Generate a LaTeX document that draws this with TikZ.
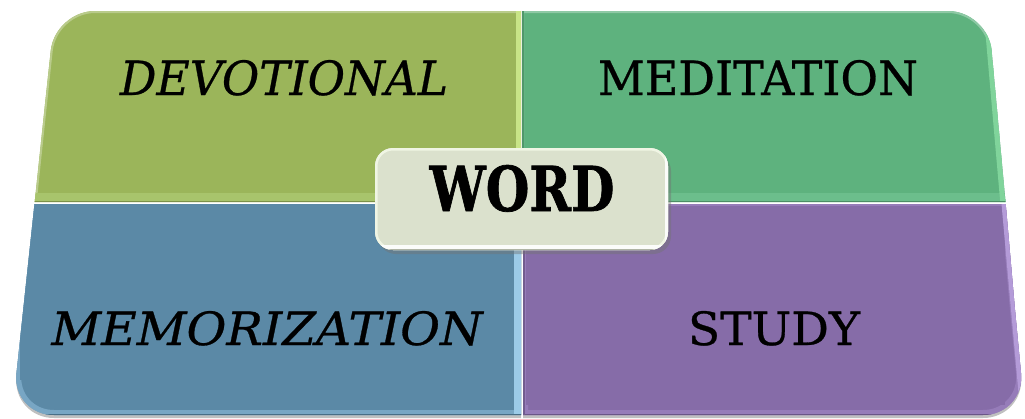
\documentclass[tikz,border=0pt]{standalone}
\usepackage{fontspec}
\usepackage{graphicx}
\setmainfont{DejaVu Serif}
\newfontfamily\lblfont[FakeBold=0.6]{DejaVu Serif}
\newfontfamily\wordfont[FakeBold=1.2]{DejaVu Serif}
\definecolor{tlc}{RGB}{155,181,90}
\definecolor{tlhl}{RGB}{200,228,135}
\definecolor{tlband}{RGB}{168,196,108}
\definecolor{trc}{RGB}{94,178,126}
\definecolor{trhl}{RGB}{128,212,155}
\definecolor{trband}{RGB}{108,190,140}
\definecolor{blc}{RGB}{91,137,166}
\definecolor{blhl}{RGB}{156,203,232}
\definecolor{blband}{RGB}{120,166,196}
\definecolor{brc}{RGB}{134,108,168}
\definecolor{brhl}{RGB}{180,155,216}
\definecolor{brband}{RGB}{150,124,185}
\definecolor{wordc}{RGB}{219,225,205}
\definecolor{wordedge}{RGB}{240,245,228}
\tikzset{
  lbl/.style={anchor=base, inner sep=0pt, text=black},
  shade3/.style={fill=black!55, opacity=0.45},
}
\def\TLpath{(300,11) -- (521,11) -- (521,202) -- (34.7,202) -- (44.8,106) [rounded corners=40] -- (55,11) -- cycle}
\def\TRpath{(700,11) -- (522,11) -- (522,202) -- (1005.5,202) -- (996.7,106) [rounded corners=40] -- (988,11) -- cycle}
\def\BLpath{(300,415) -- (521,415) -- (521,204) -- (34.5,204) -- (23.2,310) [rounded corners=42] -- (12,415) -- cycle}
\def\BRpath{(700,415) -- (523,415) -- (523,204) -- (1005.7,204) -- (1015,310) [rounded corners=42] -- (1025,415) -- cycle}
\begin{document}
\begin{tikzpicture}[x=1pt,y=-1pt]
\useasboundingbox (0,0) rectangle (1025,418);
% shadow under the board
\begin{scope}[shift={(0,3)}]
  \fill[shade3] \BLpath;
  \fill[shade3] \BRpath;
\end{scope}
% top-left tile
\fill[tlc] \TLpath;
\begin{scope}
  \clip \TLpath;
  \draw[tlc!70!white, line width=4] \TLpath;
  \draw[tlband, line width=9] (20,197) -- (530,197);
  \draw[tlhl, line width=5] (518.5,0) -- (518.5,201);
  \draw[tlc!80!black, line width=1] (20,201.5) -- (530,201.5);
\end{scope}
% top-right tile
\fill[trc] \TRpath;
\begin{scope}
  \clip \TRpath;
  \draw[trc!70!white, line width=4] \TRpath;
  \draw[trband, line width=9] (510,197) -- (1020,197);
  \draw[trhl, line width=5] (1003.5,211) -- (986,11);
  \draw[trc!80!black, line width=1] (510,201.5) -- (1020,201.5);
  \draw[trc!85!black, line width=1.5] (522.8,0) -- (522.8,202);
\end{scope}
% bottom-left tile
\fill[blc] \BLpath;
\begin{scope}
  \clip \BLpath;
  \draw[blc!70!white, line width=4] \BLpath;
  \draw[blband, line width=10] \BLpath;
  \fill[blc] (40,204) rectangle (512,405);
  \fill[blc] (20,204) rectangle (512,380);
  \draw[blhl, line width=7] (517.5,204) -- (517.5,415);
  \draw[blc!80!black, line width=1] (0,414.5) -- (530,414.5);
\end{scope}
% bottom-right tile
\fill[brc] \BRpath;
\begin{scope}
  \clip \BRpath;
  \draw[brc!70!white, line width=4] \BRpath;
  \draw[brband, line width=10] \BRpath;
  \fill[brc] (526,206) rectangle (1005,405);
  \draw[brhl, line width=5] (1004,204) -- (1023,415);
  \draw[brc!80!black, line width=1] (510,414.5) -- (1030,414.5);
  \draw[brc!85!black, line width=1.5] (523.8,204) -- (523.8,415);
\end{scope}
% labels
\node[lbl] (devotional) at (284,95) {\resizebox{328pt}{35pt}{\lblfont\itshape DEVOTIONAL}};
\node[lbl] (meditation) at (758,95) {\resizebox{320pt}{35pt}{\lblfont MEDITATION}};
\node[lbl] (memorization) at (267,345) {\resizebox{431pt}{34pt}{\lblfont\itshape MEMORIZATION}};
\node[lbl] (study) at (774,345) {\resizebox{172pt}{34pt}{\lblfont STUDY}};
% central WORD box
\fill[shade3, rounded corners=18] (378,153) rectangle (671,254);
\fill[wordc, rounded corners=18] (375,148) rectangle (668,250);
\begin{scope}
  \clip[rounded corners=18] (375,148) rectangle (668,250);
  \draw[wordedge, line width=5, rounded corners=18] (375,148) rectangle (668,250);
  \draw[white!90!wordc, line width=9] (360,249) -- (680,249);
  \draw[white!90!wordc, line width=7] (668,140) -- (668,260);
  \draw[wordc!80!black, line width=1] (360,249.5) -- (680,249.5);
\end{scope}
\node[lbl] (word) at (522,211) {\resizebox{185pt}{46pt}{\wordfont\bfseries WORD}};
\end{tikzpicture}
\end{document}
